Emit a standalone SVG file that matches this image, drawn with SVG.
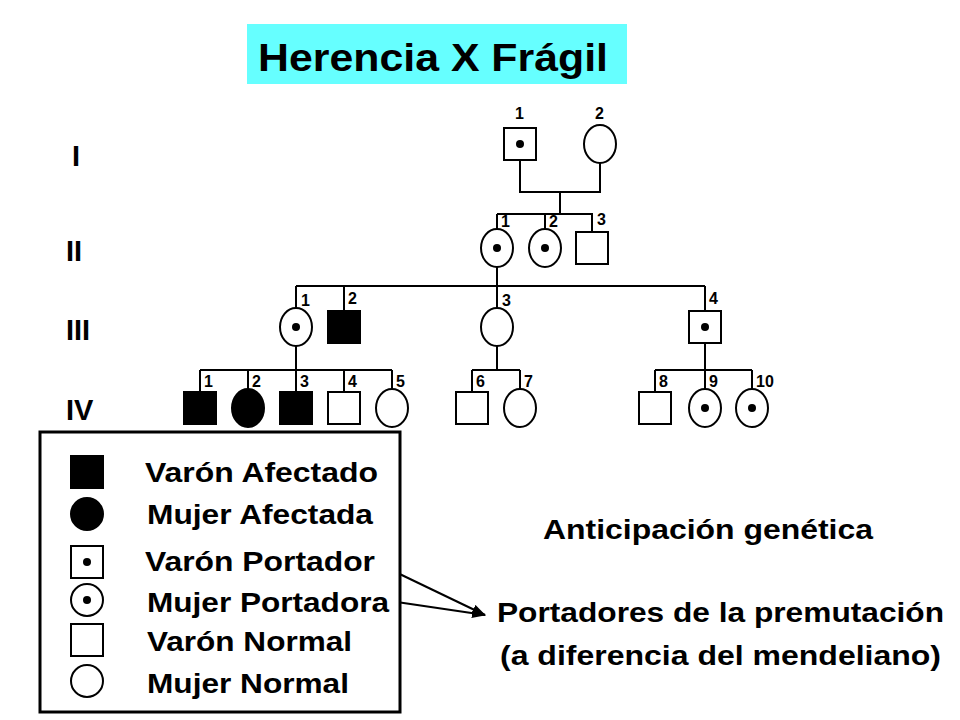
<svg xmlns="http://www.w3.org/2000/svg" width="960" height="720" viewBox="0 0 960 720">
<style>
.s{fill:#fff;stroke:#000;stroke-width:2}
.a{fill:#000;stroke:#000;stroke-width:2}
.l{stroke:#000;stroke-width:2;fill:none}
.n{font-family:"Liberation Sans",Arial,sans-serif;font-weight:bold;font-size:16px}
.r{font-family:"Liberation Sans",Arial,sans-serif;font-weight:bold;font-size:29px}
.t{font-family:"Liberation Sans",Arial,sans-serif;font-weight:bold;font-size:28px}
</style>
<defs>
<marker id="ar" markerWidth="14" markerHeight="10" refX="13" refY="5" orient="auto" markerUnits="userSpaceOnUse"><path d="M0,0L14,5L0,10z" fill="#000"/></marker>
</defs>
<rect x="247" y="24" width="380" height="60" fill="#66FFFF"/>
<text x="258" y="71" font-family="Liberation Sans,Arial,sans-serif" font-weight="bold" font-size="38" textLength="350" lengthAdjust="spacingAndGlyphs">Herencia X Frágil</text>
<g class="r"><text x="72" y="166">I</text><text x="66" y="261">II</text><text x="66" y="340">III</text><text x="66" y="420">IV</text></g>
<g id="connectors" class="l">
<path d="M520 160V192H600V163M560 192V214M497 214H593M497 214V229M545 214V229M592 214V232"/>
<path d="M497 267V286M296 286H705M296 286V308M344 286V311M497 286V308M705 286V311"/>
<path d="M296 346V370M200 370H392M200 370V392M248 370V389M296 370V392M344 370V392M392 370V389"/>
<path d="M497 346V370M472 370H520M472 370V392M520 370V389"/>
<path d="M705 343V370M655 370H752M655 370V392M705 370V389M752 370V389"/>
<line x1="383" y1="566" x2="485" y2="615" marker-end="url(#ar)"/>
<line x1="390" y1="601" x2="485" y2="615" marker-end="url(#ar)"/>
</g>
<g id="I-1"><rect class="s" x="504" y="128" width="32" height="32"/><circle cx="520" cy="144" r="4"/><text class="n" x="515" y="119">1</text></g>
<g id="I-2"><ellipse class="s" cx="600" cy="144" rx="16" ry="19"/><text class="n" x="595" y="119">2</text></g>
<g id="II-1"><ellipse class="s" cx="497" cy="248" rx="16" ry="19"/><circle cx="497" cy="248" r="4"/><text class="n" x="501" y="227">1</text></g>
<g id="II-2"><ellipse class="s" cx="545" cy="248" rx="16" ry="19"/><circle cx="545" cy="248" r="4"/><text class="n" x="549" y="227">2</text></g>
<g id="II-3"><rect class="s" x="576" y="232" width="32" height="32"/><text class="n" x="597" y="225">3</text></g>
<g id="III-1"><ellipse class="s" cx="296" cy="327" rx="16" ry="19"/><circle cx="296" cy="327" r="4"/><text class="n" x="301" y="306">1</text></g>
<g id="III-2"><rect class="a" x="328" y="311" width="32" height="32"/><text class="n" x="348" y="304">2</text></g>
<g id="III-3"><ellipse class="s" cx="497" cy="327" rx="16" ry="19"/><text class="n" x="502" y="306">3</text></g>
<g id="III-4"><rect class="s" x="689" y="311" width="32" height="32"/><circle cx="705" cy="327" r="4"/><text class="n" x="709" y="304">4</text></g>
<g id="IV-1"><rect class="a" x="184" y="392" width="32" height="32"/><text class="n" x="204" y="387">1</text></g>
<g id="IV-2"><ellipse class="a" cx="248" cy="408" rx="16" ry="19"/><text class="n" x="252" y="387">2</text></g>
<g id="IV-3"><rect class="a" x="280" y="392" width="32" height="32"/><text class="n" x="300" y="387">3</text></g>
<g id="IV-4"><rect class="s" x="328" y="392" width="32" height="32"/><text class="n" x="348" y="387">4</text></g>
<g id="IV-5"><ellipse class="s" cx="392" cy="408" rx="16" ry="19"/><text class="n" x="396" y="387">5</text></g>
<g id="IV-6"><rect class="s" x="456" y="392" width="32" height="32"/><text class="n" x="476" y="387">6</text></g>
<g id="IV-7"><ellipse class="s" cx="520" cy="408" rx="16" ry="19"/><text class="n" x="524" y="387">7</text></g>
<g id="IV-8"><rect class="s" x="639" y="392" width="32" height="32"/><text class="n" x="659" y="387">8</text></g>
<g id="IV-9"><ellipse class="s" cx="705" cy="408" rx="16" ry="19"/><circle cx="705" cy="408" r="4"/><text class="n" x="709" y="387">9</text></g>
<g id="IV-10"><ellipse class="s" cx="752" cy="408" rx="16" ry="19"/><circle cx="752" cy="408" r="4"/><text class="n" x="756" y="387">10</text></g>
<g id="legend">
<rect x="40" y="432" width="360" height="280" fill="#fff" stroke="#000" stroke-width="3"/>
<rect class="a" x="71" y="456" width="32" height="32"/>
<ellipse class="a" cx="87" cy="514" rx="16" ry="16"/>
<rect class="s" x="71" y="546" width="32" height="32"/><circle cx="87" cy="562" r="4"/>
<ellipse class="s" cx="87" cy="600" rx="16" ry="16"/><circle cx="87" cy="600" r="4"/>
<rect class="s" x="71" y="624" width="32" height="32"/>
<ellipse class="s" cx="87" cy="681" rx="16" ry="16"/>
<g class="t">
<text x="145" y="482" textLength="233" lengthAdjust="spacingAndGlyphs">Varón Afectado</text>
<text x="147" y="524" textLength="226" lengthAdjust="spacingAndGlyphs">Mujer Afectada</text>
<text x="145" y="571" textLength="230" lengthAdjust="spacingAndGlyphs">Varón Portador</text>
<text x="147" y="612" textLength="242" lengthAdjust="spacingAndGlyphs">Mujer Portadora</text>
<text x="147" y="651" textLength="205" lengthAdjust="spacingAndGlyphs">Varón Normal</text>
<text x="147" y="693" textLength="202" lengthAdjust="spacingAndGlyphs">Mujer Normal</text>
</g>
</g>
<g class="t">
<text x="543" y="539" textLength="330" lengthAdjust="spacingAndGlyphs">Anticipación genética</text>
<text x="497" y="622" textLength="447" lengthAdjust="spacingAndGlyphs">Portadores de la premutación</text>
<text x="500" y="665" textLength="441" lengthAdjust="spacingAndGlyphs">(a diferencia del mendeliano)</text>
</g>
</svg>
